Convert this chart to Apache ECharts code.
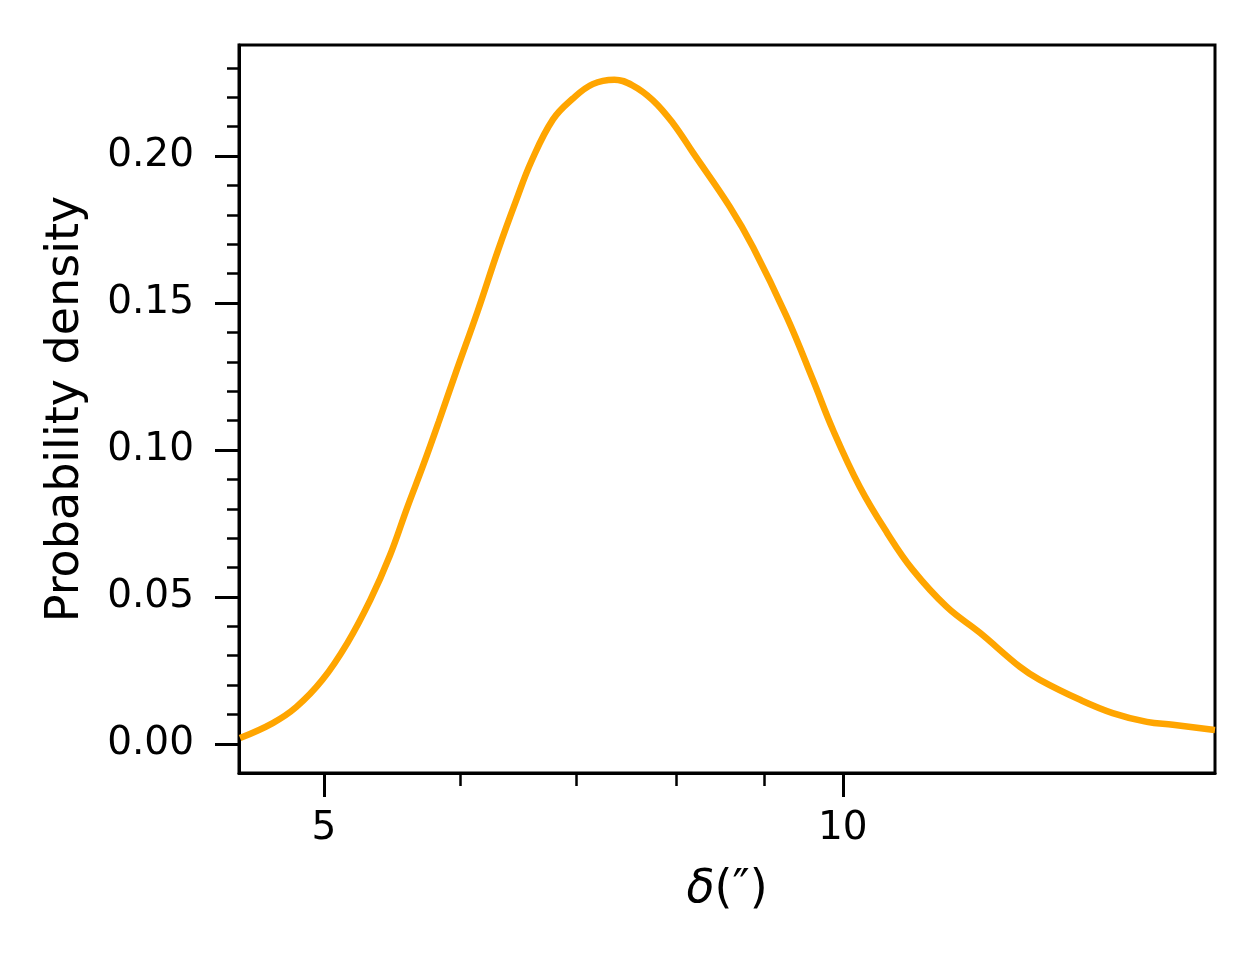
<!DOCTYPE html>
<html>
<head>
<meta charset="utf-8">
<title>Probability density</title>
<script src="https://cdn.jsdelivr.net/npm/echarts@6/dist/echarts.min.js"></script>
<style>
  html, body { margin: 0; padding: 0; background: #fff; }
  #chart { width: 1260px; height: 960px; }
</style>
</head>
<body>
<div id="chart"></div>
<script>
// curve (x is on a log axis)
const deltaValues = [4.47, 4.67, 4.82, 4.99, 5.16, 5.32, 5.46, 5.59, 5.71, 5.83,
  5.96, 6.14, 6.31, 6.46, 6.60, 6.79, 6.97, 7.16, 7.37, 7.55,
  7.76, 7.97, 8.19, 8.60, 8.87, 9.28, 9.61, 9.87, 10.23, 10.61,
  10.98, 11.49, 12.01, 12.67, 13.01, 13.73, 14.34, 15.01, 15.54, 16.39, 16.44];
const densityValues = [0.0020, 0.0071, 0.0126, 0.0218, 0.0344, 0.0490, 0.0640, 0.0806, 0.0949, 0.1097,
  0.1259, 0.1472, 0.1680, 0.1845, 0.1985, 0.2125, 0.2195, 0.2245, 0.2260, 0.2241,
  0.2190, 0.2112, 0.2010, 0.1827, 0.1690, 0.1452, 0.1238, 0.1068, 0.0874, 0.0718,
  0.0592, 0.0466, 0.0378, 0.0262, 0.0218, 0.0150, 0.0105, 0.0075, 0.0065, 0.0048, 0.0047];

// ticks
const xMajorTicks = [5, 10];
const xMinorTicks = [6, 7, 8, 9];
const yMajorTicks = [0, 0.05, 0.10, 0.15, 0.20];
const yMinorTicks = [0.01, 0.02, 0.03, 0.04, 0.06, 0.07, 0.08, 0.09, 0.11, 0.12, 0.13, 0.14,
  0.16, 0.17, 0.18, 0.19, 0.21, 0.22, 0.23];

const xRange = [4.464, 16.44];
const yRange = [-0.0099, 0.2378];

const font = 'DejaVu Sans';
const chart = echarts.init(document.getElementById('chart'));

const option = {
  backgroundColor: '#fff',
  animation: false,
  grid: {
    left: 239,
    right: 45,
    top: 45,
    bottom: 187,
    show: true,
    borderColor: '#000',
    borderWidth: 3,
    backgroundColor: 'transparent'
  },
  xAxis: [
    {
      type: 'log',
      logBase: 10,
      min: xRange[0],
      max: xRange[1],
      name: '{i|δ}(″)',
      nameLocation: 'middle',
      nameGap: 94,
      nameTextStyle: {
        fontFamily: font,
        fontSize: 46,
        color: '#000',
        rich: {
          i: { fontFamily: font, fontSize: 46, fontStyle: 'italic', color: '#000' }
        }
      },
      axisLine: { show: true, onZero: false, lineStyle: { color: '#000', width: 3 } },
      axisTick: { show: true, customValues: xMajorTicks, length: 24, lineStyle: { color: '#000', width: 3 } },
      axisLabel: {
        customValues: xMajorTicks,
        margin: 36,
        fontFamily: font,
        fontSize: 39,
        color: '#000',
        formatter: v => String(Math.round(v))
      },
      splitLine: { show: false },
      minorTick: { show: false }
    },
    {
      type: 'log',
      logBase: 10,
      min: xRange[0],
      max: xRange[1],
      position: 'bottom',
      axisLine: { show: false, onZero: false },
      axisTick: { show: true, customValues: xMinorTicks, length: 13, lineStyle: { color: '#000', width: 2.5 } },
      axisLabel: { show: false },
      splitLine: { show: false }
    }
  ],
  yAxis: [
    {
      type: 'value',
      min: yRange[0],
      max: yRange[1],
      name: 'Probability density',
      nameLocation: 'middle',
      nameGap: 150,
      nameRotate: 90,
      nameTextStyle: { fontFamily: font, fontSize: 46, color: '#000' },
      axisLine: { show: true, onZero: false, lineStyle: { color: '#000', width: 3 } },
      axisTick: { show: true, customValues: yMajorTicks, length: 24, lineStyle: { color: '#000', width: 3 } },
      axisLabel: {
        customValues: yMajorTicks,
        margin: 45,
        fontFamily: font,
        fontSize: 39,
        color: '#000',
        formatter: v => v.toFixed(2)
      },
      splitLine: { show: false }
    },
    {
      type: 'value',
      min: yRange[0],
      max: yRange[1],
      position: 'left',
      axisLine: { show: false, onZero: false },
      axisTick: { show: true, customValues: yMinorTicks, length: 12, lineStyle: { color: '#000', width: 2.5 } },
      axisLabel: { show: false },
      splitLine: { show: false }
    }
  ],
  series: [
    {
      type: 'line',
      xAxisIndex: 0,
      yAxisIndex: 0,
      data: deltaValues.map((d, i) => [d, densityValues[i]]),
      showSymbol: false,
      smooth: 0.4,
      lineStyle: { color: '#FFA500', width: 6.5 },
      clip: true
    }
  ]
};

chart.setOption(option);
</script>
</body>
</html>
